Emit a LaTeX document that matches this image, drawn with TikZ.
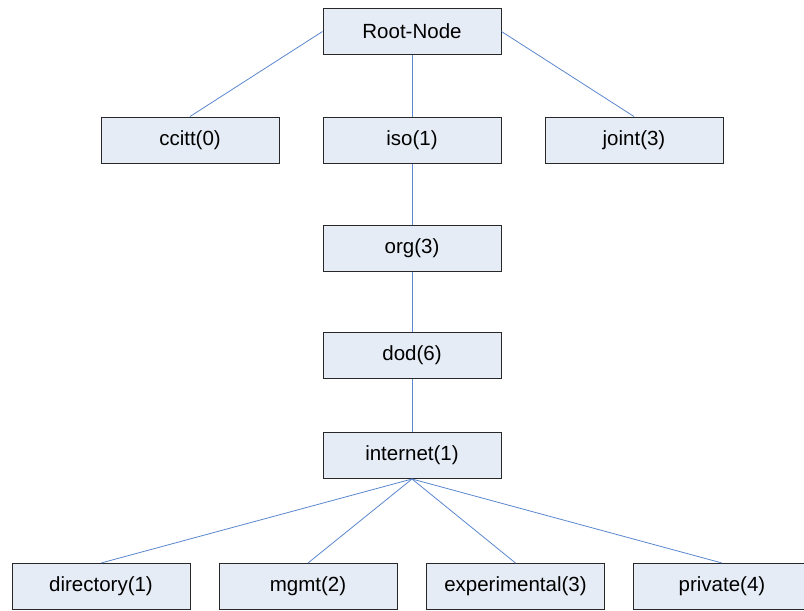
\documentclass[tikz,border=0pt]{standalone}
\usepackage{fontspec}
\setmainfont{Liberation Sans}
\definecolor{boxfill}{RGB}{230,236,246}
\definecolor{boxdraw}{RGB}{40,40,40}
\definecolor{linkcol}{RGB}{90,135,205}
\begin{document}
\begin{tikzpicture}[x=1pt,y=-1pt,
  oidbox/.style={draw=boxdraw, fill=boxfill, line width=1pt, minimum width=178pt, minimum height=46pt, inner sep=0pt, font=\fontsize{20.5}{24}\selectfont},
  link/.style={draw=linkcol, line width=0.8pt}]
\useasboundingbox (0,0) rectangle (804,611);
\clip (0,0) rectangle (804,611);
\node[oidbox] (root) at (412,31.5) {Root-Node};
\node[oidbox] (ccitt) at (190,140) {ccitt(0)};
\node[oidbox] (iso) at (412,140) {iso(1)};
\node[oidbox] (joint) at (634,140) {joint(3)};
\node[oidbox] (org) at (412,248) {org(3)};
\node[oidbox] (dod) at (412,355.5) {dod(6)};
\node[oidbox] (internet) at (412,455.5) {internet(1)};
\node[oidbox] (directory) at (101,586.5) {directory(1)};
\node[oidbox] (mgmt) at (308,586.5) {mgmt(2)};
\node[oidbox] (experimental) at (515.5,586.5) {experimental(3)};
\node[oidbox] (private) at (722,586.5) {private(4)};
\draw[link] (root.west) -- (ccitt.north);
\draw[link] (root.east) -- (joint.north);
\draw[link] (root.south) -- (iso.north);
\draw[link] (iso.south) -- (org.north);
\draw[link] (org.south) -- (dod.north);
\draw[link] (dod.south) -- (internet.north);
\draw[link] (internet.south) -- (directory.north);
\draw[link] (internet.south) -- (mgmt.north);
\draw[link] (internet.south) -- (experimental.north);
\draw[link] (internet.south) -- (private.north);
\end{tikzpicture}
\end{document}
